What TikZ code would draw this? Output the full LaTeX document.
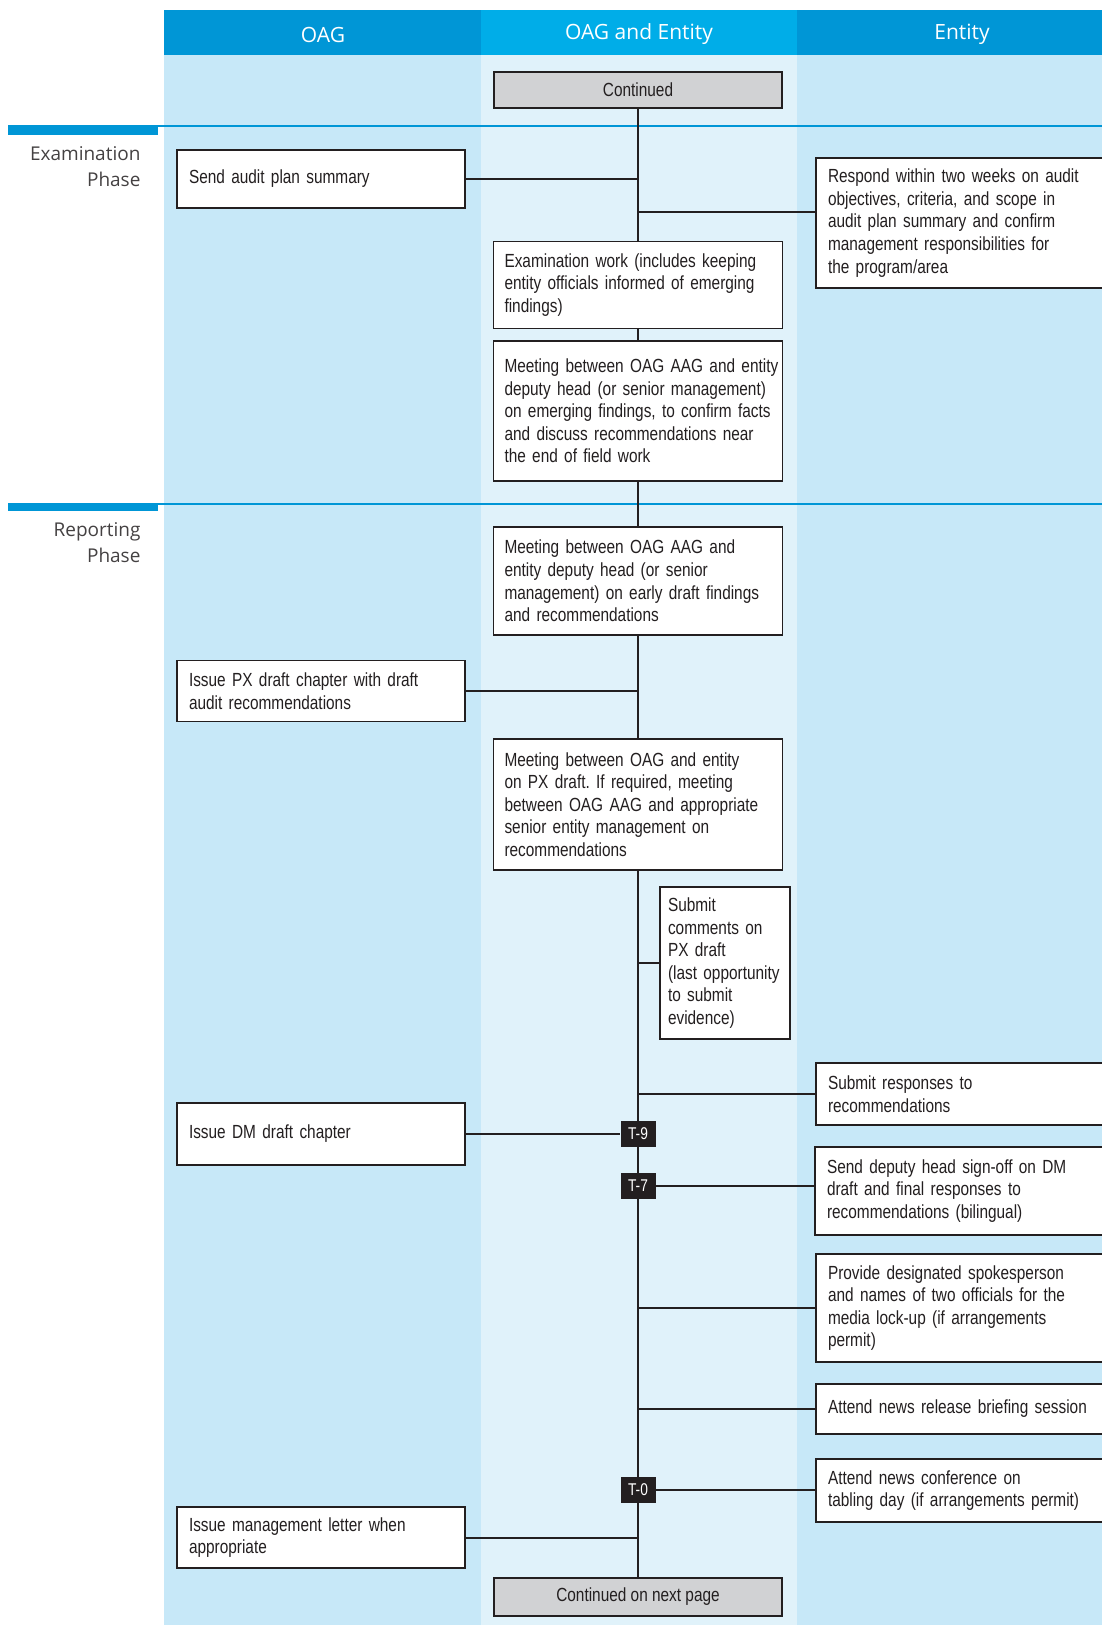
\documentclass[tikz,border=0pt]{standalone}
\usepackage{fontspec}
\setmainfont{Liberation Sans}[FakeStretch=0.81]
\newfontfamily\headfont{Open Sans}
\usetikzlibrary{calc}
\frenchspacing

\definecolor{hdark}{HTML}{0096D6}
\definecolor{hlight}{HTML}{00ADE8}
\definecolor{laneside}{HTML}{C7E8F8}
\definecolor{lanemid}{HTML}{E0F2FA}
\definecolor{ink}{HTML}{231F20}
\definecolor{contgray}{HTML}{D1D2D4}

\tikzset{
  box/.style={draw=ink, line width=1.3pt, fill=white, text=ink, align=left,
    font=\fontsize{19}{22.6}\selectfont, inner ysep=5pt},
  oagbox/.style={box, text width=264pt, inner xsep=12pt},
  midbox/.style={box, text width=267pt, inner xsep=11pt},
  entbox/.style={box, text width=280pt, inner xsep=12pt},
  contbox/.style={draw=ink, line width=1.3pt, fill=contgray, text=ink,
    font=\fontsize{19}{22.6}\selectfont, minimum width=288pt},
  tmark/.style={fill=ink, text=white, font=\fontsize{17}{17}\selectfont,
    minimum width=35pt, minimum height=26pt, inner sep=0pt},
  link/.style={draw=ink, line width=2pt},
  lanehead/.style={text=white, font=\headfont\fontsize{21}{21}\selectfont},
  phase/.style={text=ink!85, align=right, anchor=east,
    font=\headfont\fontsize{19}{26}\selectfont},
}

\begin{document}
\begin{tikzpicture}[x=1pt, y=-1pt]
    \useasboundingbox (0,0) rectangle (1102,1625);
    % x of the middle spine
    \def\spine{638}

    % Lanes and their headers
    \fill[laneside] (164,55) rectangle (481,1625);
    \fill[lanemid]  (481,55) rectangle (797,1625);
    \fill[laneside] (797,55) rectangle (1102,1625);
    \fill[hdark]  (164,10) rectangle (481,55);
    \fill[hlight] (481,10) rectangle (797,55);
    \fill[hdark]  (797,10) rectangle (1102,55);
    \node[lanehead] (hoag) at (323,34.5) {OAG};
    \node[lanehead] (hboth) at (639,34.5) {OAG and Entity};
    \node[lanehead] (hent) at (962,34.5) {Entity};

    % Phase rules
    \draw[hdark, line width=1.2pt] (8,126) -- (1102,126);
    \fill[hdark] (8,126) rectangle (158,135);
    \node[phase] (exphase) at (144,167) {Examination\\Phase};
    \draw[hdark, line width=1.2pt] (8,504) -- (1102,504);
    \fill[hdark] (8,504) rectangle (158,511);
    \node[phase] (repphase) at (144,543) {Reporting\\Phase};

    % Middle column
    \node[contbox, minimum height=36pt] (cont) at (\spine,90) {Continued};
    \node[midbox, minimum height=87pt] (exam) at (\spine,285)
        {Examination work (includes keeping\\entity officials informed of emerging\\findings)};
    \node[midbox, minimum height=140pt] (meetfield) at (\spine,411)
        {\mbox{Meeting between OAG AAG and entity}\\deputy head (or senior management)\\on emerging findings, to confirm facts\\and discuss recommendations near\\the end of field work};
    \node[midbox, minimum height=108pt] (meetearly) at (\spine,581)
        {Meeting between OAG AAG and\\entity deputy head (or senior\\management) on early draft findings\\and recommendations};
    \node[midbox, minimum height=131pt] (meetpx) at (\spine,804.5)
        {Meeting between OAG and entity\\on PX draft. If required, meeting\\between OAG AAG and appropriate\\senior entity management on\\recommendations};
    \node[box, text width=114pt, inner xsep=8pt, minimum height=152pt] (subcom) at (725,963)
        {Submit\\comments on\\PX draft\\(last opportunity\\to submit\\evidence)};
    \node[tmark] (t9) at (\spine,1134) {T-9};
    \node[tmark] (t7) at (\spine,1186) {T-7};
    \node[tmark] (t0) at (\spine,1490) {T-0};
    \node[contbox, minimum height=38pt] (next) at (\spine,1597) {Continued on next page};

    % OAG column
    \node[oagbox, minimum height=58pt] (plan) at (321,179) {Send audit plan summary};
    \node[oagbox, minimum height=61pt] (pxdraft) at (321,691)
        {Issue PX draft chapter with draft\\audit recommendations};
    \node[oagbox, minimum height=62pt] (dmdraft) at (321,1134) {Issue DM draft chapter};
    \node[oagbox, minimum height=61pt] (mletter) at (321,1537.5)
        {Issue management letter when\\appropriate};

    % Entity column
    \node[entbox, minimum height=130pt] (respond) at (968,223)
        {Respond within two weeks on audit\\objectives, criteria, and scope in\\audit plan summary and confirm\\management responsibilities for\\the program/area};
    \node[entbox, minimum height=62pt] (subresp) at (968,1094)
        {Submit responses to\\recommendations};
    \node[entbox, minimum height=88pt] (signoff) at (967,1191)
        {Send deputy head sign-off on DM\\draft and final responses to\\recommendations (bilingual)};
    \node[entbox, minimum height=108pt] (spokes) at (968,1308)
        {Provide designated spokesperson\\and names of two officials for the\\media lock-up (if arrangements\\permit)};
    \node[entbox, minimum height=50pt] (briefing) at (968,1409)
        {Attend news release briefing session};
    \node[entbox, minimum height=63pt] (newsconf) at (968,1490.5)
        {Attend news conference on\\tabling day (if arrangements permit)};

    % Spine
    \draw[link] (cont.south) -- (exam.north);
    \draw[link] (exam.south) -- (meetfield.north);
    \draw[link] (meetfield.south) -- (meetearly.north);
    \draw[link] (meetearly.south) -- (meetpx.north);
    \draw[link] (meetpx.south) -- (t9.north);
    \draw[link] (t9.south) -- (t7.north);
    \draw[link] (t7.south) -- (t0.north);
    \draw[link] (t0.south) -- (next.north);

    % Branches to the side columns
    \draw[link] (plan.east) -- (plan.east -| cont.south);
    \draw[link] ([yshift=11.5pt]respond.west) -- ([yshift=11.5pt]respond.west -| cont.south);
    \draw[link] (pxdraft.east) -- (pxdraft.east -| meetearly.south);
    \draw[link] (subcom.west) -- (subcom.west -| meetpx.south);
    \draw[link] (subresp.west) -- (subresp.west -| t9.north);
    \draw[link] (dmdraft.east) -- (t9.west);
    \draw[link] (t7.east) -- (t7.east -| signoff.west);
    \draw[link] (spokes.west) -- (spokes.west -| t0.north);
    \draw[link] (briefing.west) -- (briefing.west -| t0.north);
    \draw[link] (t0.east) -- (t0.east -| newsconf.west);
    \draw[link] (mletter.east) -- (mletter.east -| next.north);

\end{tikzpicture}
\end{document}
